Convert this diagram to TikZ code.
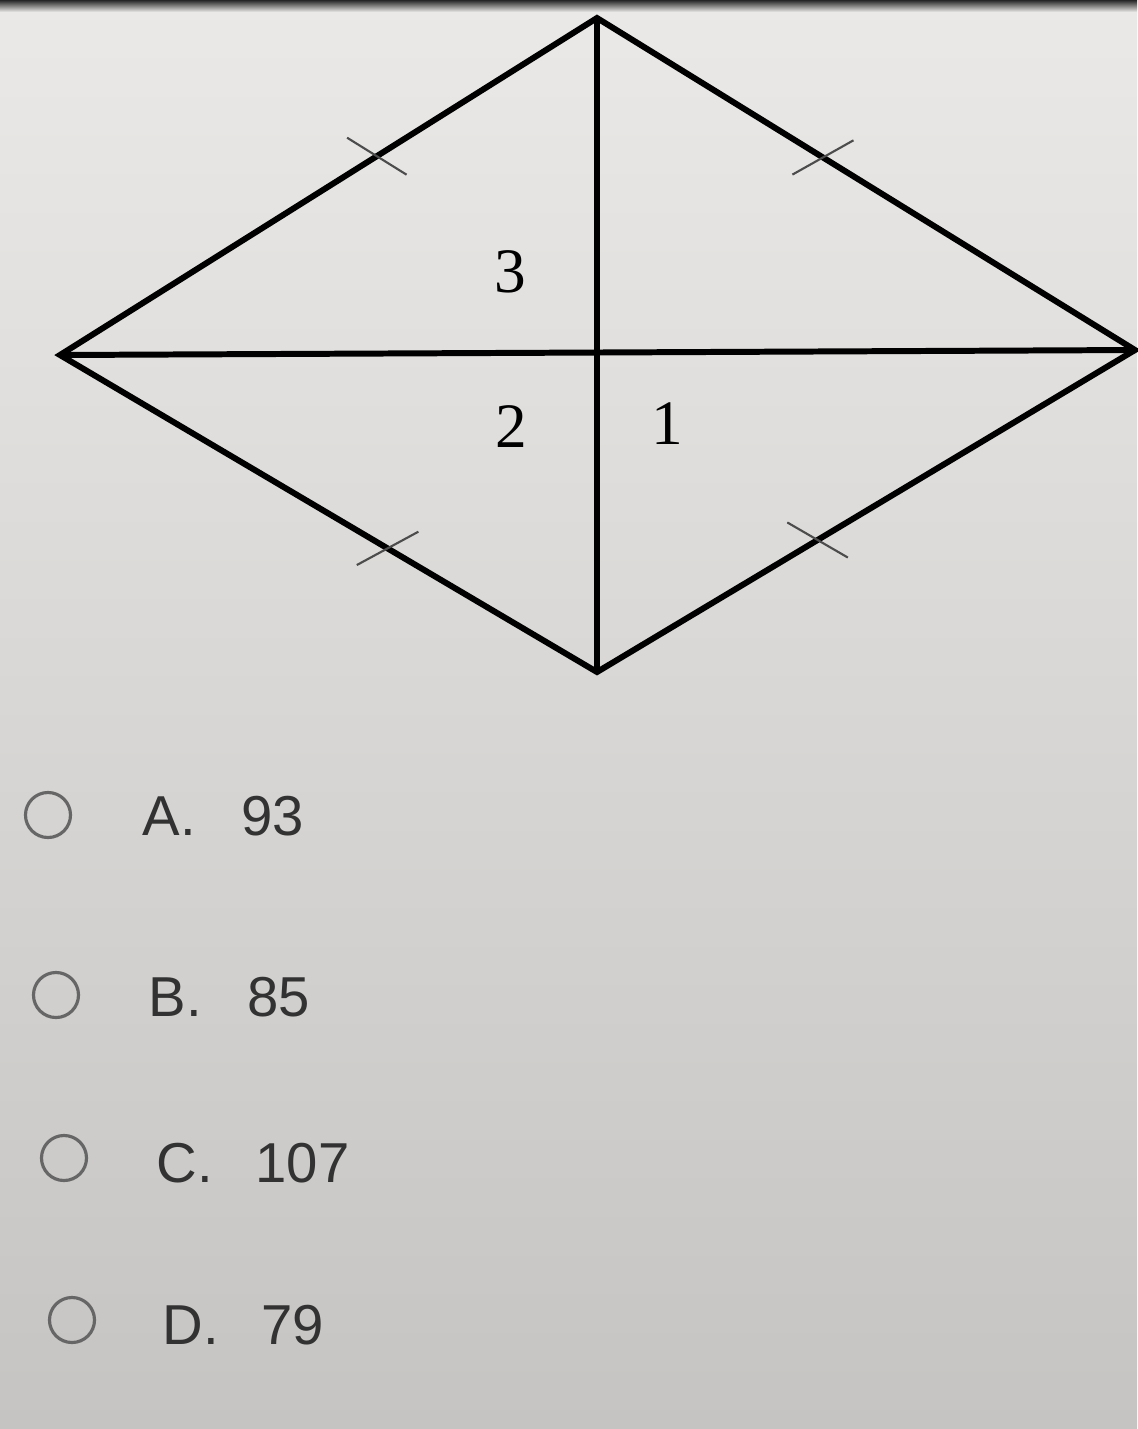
\documentclass[tikz,border=0pt]{standalone}
\usepackage{fontspec}
\setmainfont{Liberation Serif}
\newfontfamily\optfont{Liberation Sans}
\usetikzlibrary{calc}
\definecolor{screentop}{RGB}{234,233,231}
\definecolor{screenbot}{RGB}{198,196,194}
\definecolor{optgray}{RGB}{50,50,50}
\begin{document}
\begin{tikzpicture}[x=0.01cm,y=-0.01cm,
  edge/.style={line width=1.7pt, line join=miter},
  tickmark/.style={line width=0.6pt, black!70},
  anglab/.style={font=\fontsize{18}{18}\selectfont, inner sep=0pt},
  radio/.style={circle, draw=black!60, line width=0.9pt, minimum size=0.45cm, inner sep=0pt},
  opt/.style={font=\optfont\fontsize{16}{16}\selectfont, text=optgray, anchor=west, inner sep=0pt}]
  % screen background
  \shade[top color=screentop, bottom color=screenbot] (0,0) rectangle (1137,1429);
  \shade[top color=black!85, bottom color=screentop] (0,0) rectangle (1137,12);
  % rhombus corners
  \coordinate (T) at (597,18);
  \coordinate (L) at (60,355);
  \coordinate (R) at (1135,350);
  \coordinate (B) at (597,672);
  % sides and diagonals
  \draw[edge] (T) -- (R) -- (B) -- (L) -- cycle;
  \draw[edge] (L) -- (R);
  \draw[edge] (T) -- (B);
  % tick marks on the sides: from/to/pos/turn
  \foreach \a/\b/\p/\r in {L/T/0.59/-64, T/R/0.42/61, L/B/0.61/59, B/R/0.41/-61} {
    \coordinate (m) at ($(\a)!\p!(\b)$);
    \draw[tickmark] ($(m)!0.35cm!\r:(\b)$) -- ($(m)!-0.35cm!\r:(\b)$);
  }
  % angle numbers
  \node[anglab] (ang3) at (510,272) {3};
  \node[anglab] (ang2) at (511,427) {2};
  \node[anglab] (ang1) at (667,424) {1};
  % answer choices: letter/circle x/circle y/text x/text y/value
  \foreach \k/\cx/\cy/\tx/\ty/\v in {
    A/48/815/142/816/93,
    B/56/995/148/997/85,
    C/64/1158/156/1163/107,
    D/72/1320/162/1325/79} {
    \node[radio] (r\k) at (\cx,\cy) {};
    \node[opt] (l\k) at (\tx,\ty) {\k.};
    \node[opt] (v\k) at (\tx+99,\ty) {\v};
  }
\end{tikzpicture}
\end{document}
